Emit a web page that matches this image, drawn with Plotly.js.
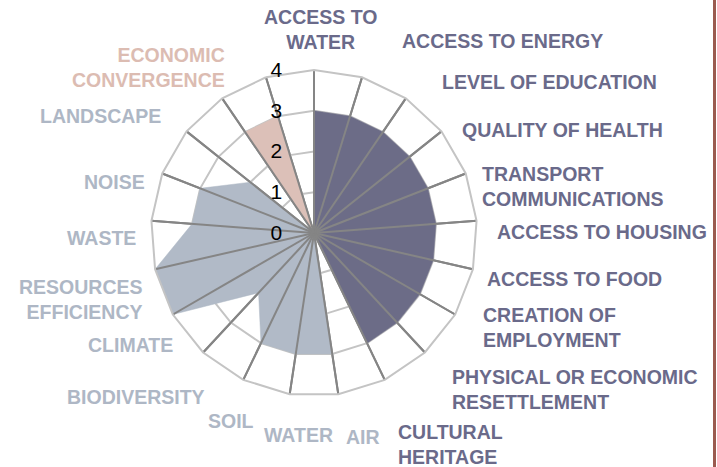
<!DOCTYPE html>
<html>
<head>
<meta charset="utf-8">
<script src="https://cdn.plot.ly/plotly-3.0.1.min.js"></script>
<style>html,body{margin:0;padding:0;background:#fff;}#chart{width:717px;height:467px;}</style>
</head>
<body>
<div id="chart"></div>
<script>
// 21 spokes of the radar
const spokes = ['1','2','3','4','5','6','7','8','9','10','11','12','13','14','15','16','17','18','19','20','21'];
// series values per spoke
const socialValues      = [3,3,3,3,3,3,3,3,3,3,0,0,0,0,0,0,0,0,0,0,0];
const environmentValues = [0,0,0,0,0,0,0,0,0,0,3,3,3,2,4,4,3,3,2,0,0];
const economicValues    = [0,0,0,0,0,0,0,0,0,0,0,0,0,0,0,0,0,0,0,3,3];
const radialTicks = [0,1,2,3,4];
const rMax = 4;

const socialLabels = ['ACCESS TO<br>WATER','ACCESS TO ENERGY','LEVEL OF EDUCATION','QUALITY OF HEALTH',
  'TRANSPORT<br>COMMUNICATIONS','ACCESS TO HOUSING','ACCESS TO FOOD','CREATION OF<br>EMPLOYMENT',
  'PHYSICAL OR ECONOMIC<br>RESETTLEMENT','CULTURAL<br>HERITAGE'];
const environmentLabels = ['AIR','WATER','SOIL','BIODIVERSITY','CLIMATE','RESOURCES<br>EFFICIENCY','WASTE','NOISE','LANDSCAPE'];
const economicLabels = ['ECONOMIC<br>CONVERGENCE'];

// layout positions (pixels) for the labels
const socialPos = [[320,29,'center'],[400,41,'left'],[440,82,'left'],[460,130,'left'],[480,186,'left'],
  [495,232,'left'],[485,279,'left'],[481,327,'left'],[450,389.5,'left'],[396,444.5,'left']];
const environmentPos = [[382,437,'right'],[335,435,'right'],[256,421,'right'],[207,397,'right'],[175,345,'right'],
  [145,299,'right'],[138,238,'right'],[147,182,'right'],[163,116,'right']];
const economicPos = [[227,67.5,'right']];

const W = 717, H = 467;
const cDark = '#6c6c87', cBlue = '#b1bac7', cPink = '#dcc0b8';
const tDark = '#6a6a8a', tBlue = '#aeb7c5', tPink = '#dcbcb2';

function spokeTrace() {
  const r = [], th = [];
  spokes.forEach(s => { r.push(0, rMax, null); th.push(s, s, s); });
  return {type:'scatterpolar', r:r, theta:th, mode:'lines', line:{color:'#858585', width:2},
    hoverinfo:'skip', showlegend:false, connectgaps:false};
}
function fillTrace(vals, color) {
  return {type:'scatterpolar', r:vals, theta:spokes, mode:'lines', fill:'toself',
    fillcolor:color, line:{color:color, width:0.5}, hoverinfo:'skip', showlegend:false};
}

const data = [
  fillTrace(socialValues, cDark),
  fillTrace(environmentValues, cBlue),
  fillTrace(economicValues, cPink),
  spokeTrace()
];

const annotations = [];
function addLabels(labels, pos, color) {
  labels.forEach((t, i) => {
    const p = pos[i];
    annotations.push({text:t, xref:'paper', yref:'paper', x:p[0]/W, y:1 - p[1]/H,
      xanchor:p[2], yanchor:'middle', align:p[2], showarrow:false,
      font:{family:'Liberation Sans, Arial, sans-serif', size:19.5, weight:'bold', color:color}});
  });
}
addLabels(socialLabels, socialPos, tDark);
addLabels(environmentLabels, environmentPos, tBlue);
addLabels(economicLabels, economicPos, tPink);

const cx = 314, cy = 233, R = 163;
const layout = {
  width: W, height: H,
  margin: {l:0, r:0, t:0, b:0},
  paper_bgcolor: '#ffffff',
  showlegend: false,
  polar: {
    domain: {x:[(cx-R)/W, (cx+R)/W], y:[(H-cy-R)/H, (H-cy+R)/H]},
    bgcolor: '#ffffff',
    gridshape: 'linear',
    angularaxis: {
      type:'category', categoryarray: spokes, rotation: 90, direction: 'clockwise',
      showticklabels: false, ticks: '', showgrid: true, gridcolor:'#858585', gridwidth: 2,
      showline: true, linecolor: '#c4c4c4', linewidth: 2
    },
    radialaxis: {
      range: [0, rMax], tickvals: radialTicks, ticktext: radialTicks.map(String),
      angle: 90, side: 'counterclockwise', tickangle: 90,
      ticks: 'outside', ticklen: 24, tickcolor: 'rgba(0,0,0,0)',
      showline: false, gridcolor: '#c4c4c4', gridwidth: 2,
      tickfont: {family:'Liberation Sans, Arial, sans-serif', size: 21, color:'#000000'}
    }
  },
  annotations: annotations,
  shapes: [{type:'rect', xref:'paper', yref:'paper', x0:713/W, x1:716/W, y0:0, y1:1,
    fillcolor:'#9b5a4f', line:{width:0}}]
};

Plotly.newPlot('chart', data, layout, {displayModeBar:false, staticPlot:true});
</script>
</body>
</html>
